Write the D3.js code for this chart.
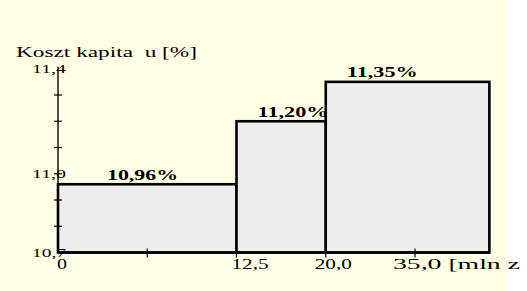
<!DOCTYPE html>
<html>
<head>
<meta charset="utf-8">
<script src="https://cdn.jsdelivr.net/npm/d3@7"></script>
<style>
  html, body { margin: 0; padding: 0; background: #ffffff; overflow: hidden; }
  svg { display: block; }
</style>
</head>
<body>
<script>
// ---- data ----
const barStarts = [0, 12.5, 20];
const barEnds = [12.5, 20, 47.5];
const barValues = [10.96, 11.20, 11.35];
const barLabels = ["10,96%", "11,20%", "11,35%"];
const xTickValues = [0, 6.25, 12.5, 20, 35];
const xTickLabels = ["0", "", "12,5", "20,0", "35,0 [mln z  ]"];
const yTickValues = [10.7, 10.8, 10.9, 11.0, 11.1, 11.2, 11.3, 11.4];
const yTickLabels = ["10,7", "", "", "11,0", "", "", "", "11,4"];
const yTitle = "Koszt kapita  u [%]";

// ---- layout ----
const W = 527, H = 291;
const FONT = "'Liberation Serif', 'Times New Roman', 'DejaVu Serif', serif";
const xLabelDx = [-1, 0, -5, -11, -22];
const svg = d3.select("body").append("svg").attr("width", W).attr("height", H)
  .attr("font-family", FONT);
svg.append("rect").attr("x", 0).attr("y", 0).attr("width", 507).attr("height", H).attr("fill", "#ffffe6");

const x0 = 58, step = 89.25;
const x = d3.scaleLinear()
  .domain([0, 12.5, 20, 35, 47.5])
  .range([x0, x0 + 2 * step, x0 + 3 * step, x0 + 4 * step, x0 + 4 * step + step * 12.5 / 15]);
const y = d3.scaleLinear().domain([10.7, 11.4]).range([252.5, 68.75]);

// bars
const bars = barValues.map((v, i) => ({ s: barStarts[i], e: barEnds[i], v, label: barLabels[i] }));
svg.append("g").selectAll("rect").data(bars).join("rect")
  .attr("x", d => x(d.s))
  .attr("y", d => y(d.v))
  .attr("width", d => x(d.e) - x(d.s))
  .attr("height", d => y(10.7) - y(d.v))
  .attr("fill", "#eeeeee")
  .attr("stroke", "#000")
  .attr("stroke-width", 2.6);

// y axis line
svg.append("line").attr("x1", x(0)).attr("x2", x(0)).attr("y1", y(11.4) - 2).attr("y2", y(10.7))
  .attr("stroke", "#000").attr("stroke-width", 1.4);
// y ticks
svg.append("g").selectAll("line").data(yTickValues.slice(1, -1)).join("line")
  .attr("x1", x(0) - 4).attr("x2", x(0) + 4)
  .attr("y1", d => y(d)).attr("y2", d => y(d))
  .attr("stroke", "#000").attr("stroke-width", 1.2);
// y labels
svg.append("g").selectAll("text").data(yTickValues.map((v, i) => ({ v, t: yTickLabels[i] })).filter(d => d.t)).join("text")
  .attr("x", 32).attr("y", d => y(d.v) + 4)
  .attr("font-size", 13)
  .attr("textLength", 34).attr("lengthAdjust", "spacingAndGlyphs")
  .text(d => d.t);

// x axis line
svg.append("line").attr("x1", x(0)).attr("x2", x(47.5)).attr("y1", y(10.7)).attr("y2", y(10.7))
  .attr("stroke", "#000").attr("stroke-width", 2.6);
// x ticks
svg.append("g").selectAll("line").data(xTickValues.slice(1)).join("line")
  .attr("x1", d => x(d)).attr("x2", d => x(d))
  .attr("y1", y(10.7) - 4).attr("y2", y(10.7) + 5)
  .attr("stroke", "#000").attr("stroke-width", 1.2);
// x labels
const xl = xTickValues.map((v, i) => ({ v, t: xTickLabels[i], i })).filter(d => d.t);
svg.append("g").selectAll("text").data(xl).join("text")
  .attr("x", d => x(d.v) + xLabelDx[d.i])
  .attr("y", 269)
  .attr("font-size", 14)
  .attr("xml:space", "preserve").style("white-space", "pre")
  .attr("textLength", d => d.i === 0 ? 10 : (d.t.length > 4 ? 150 : 37))
  .attr("lengthAdjust", "spacingAndGlyphs")
  .text(d => d.t);

// bar labels
svg.append("g").selectAll("text").data(bars).join("text")
  .attr("x", (d, i) => x(d.s) + (i === 0 ? 49 : 21))
  .attr("y", d => y(d.v) - 4.5)
  .attr("font-size", 14).attr("font-weight", "bold")
  .attr("textLength", 71).attr("lengthAdjust", "spacingAndGlyphs")
  .text(d => d.label);

// title
svg.append("text")
  .attr("x", 16).attr("y", 57)
  .attr("font-size", 14)
  .attr("xml:space", "preserve").style("white-space", "pre")
  .attr("textLength", 181).attr("lengthAdjust", "spacingAndGlyphs")
  .text(yTitle);
</script>
</body>
</html>
